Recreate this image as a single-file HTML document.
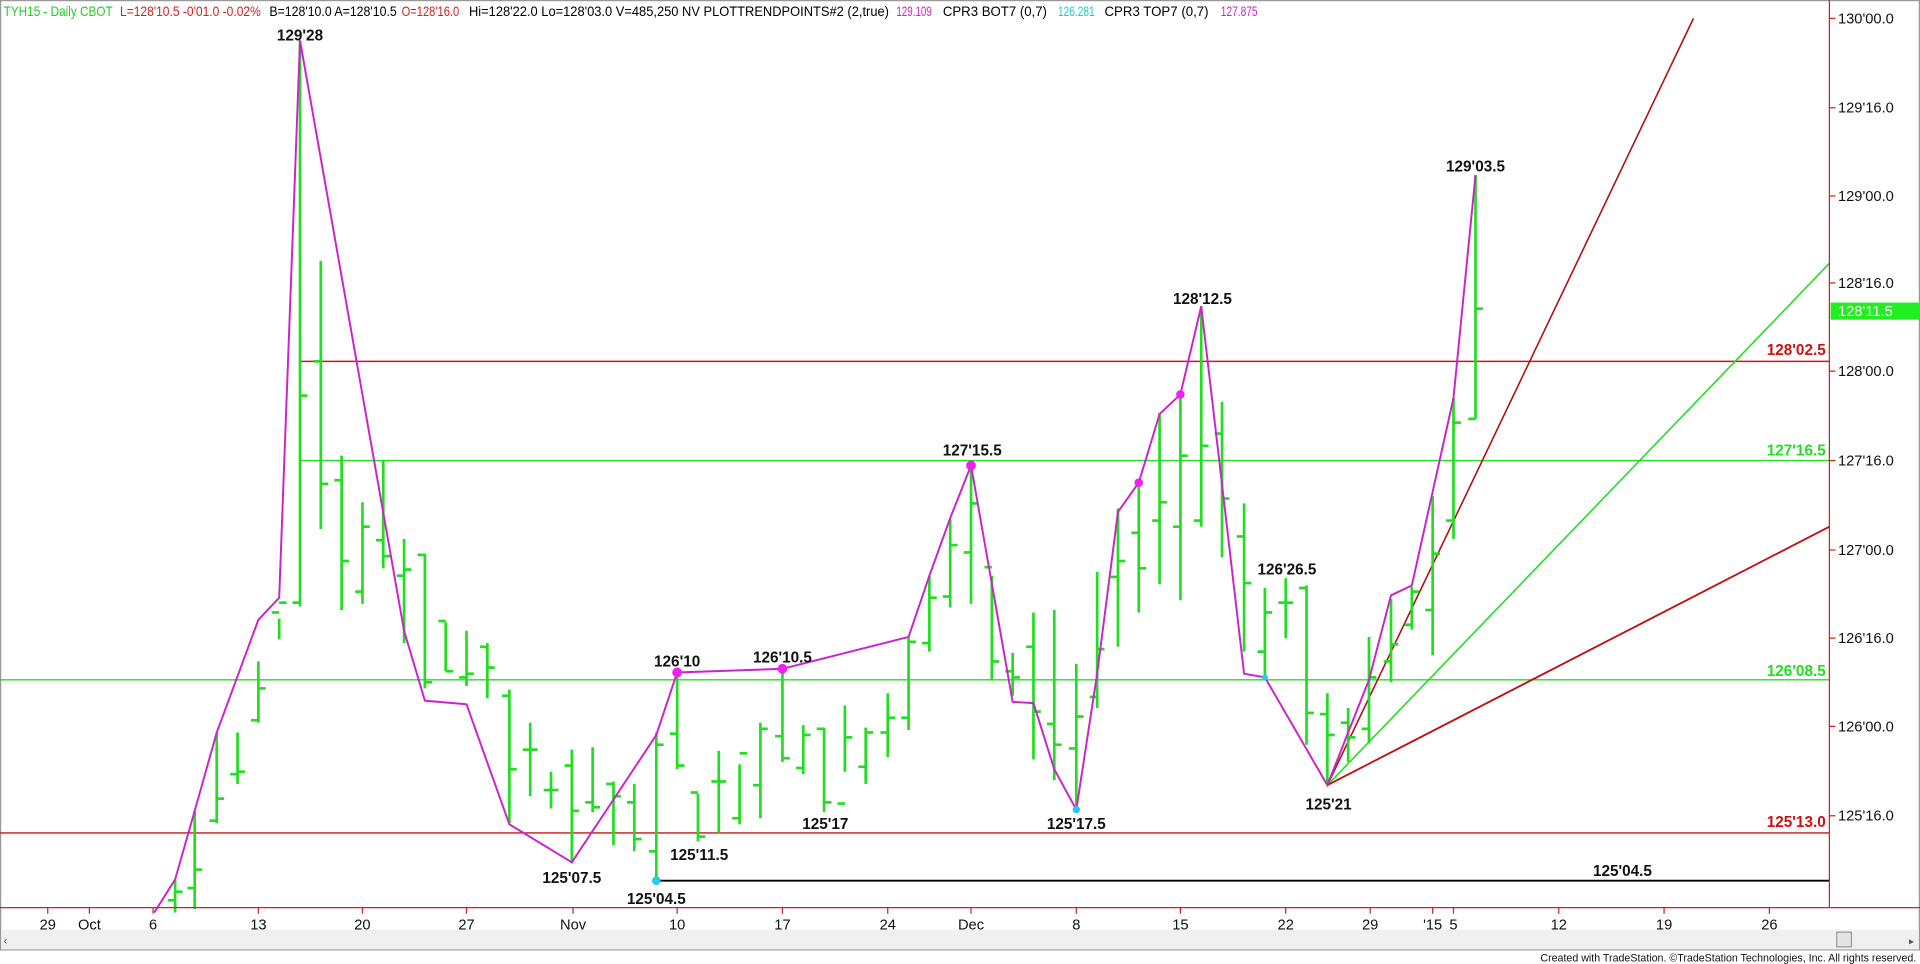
<!DOCTYPE html>
<html><head><meta charset="utf-8"><style>
html,body{margin:0;padding:0;background:#fff;overflow:hidden}
svg{display:block}
text{font-family:"Liberation Sans",Arial,sans-serif}
</style></head><body>
<svg width="1920" height="964" viewBox="0 0 1568 787" preserveAspectRatio="none">
<rect x="0" y="0" width="1568" height="787" fill="#fff"/>
<rect x="0.5" y="0.5" width="1567" height="775" fill="none" stroke="#999"/>
<!-- header -->
<g font-size="11.5" lengthAdjust="spacingAndGlyphs">
<text x="3" y="13" fill="#22cc22" textLength="89" lengthAdjust="spacingAndGlyphs">TYH15 - Daily  CBOT</text>
<text x="98" y="13" fill="#d02020" textLength="115" lengthAdjust="spacingAndGlyphs">L=128'10.5  -0'01.0  -0.02%</text>
<text x="220" y="13" fill="#000" textLength="104" lengthAdjust="spacingAndGlyphs">B=128'10.0  A=128'10.5</text>
<text x="328" y="13" fill="#d02020" textLength="47" lengthAdjust="spacingAndGlyphs">O=128'16.0</text>
<text x="383" y="13" fill="#000" textLength="343" lengthAdjust="spacingAndGlyphs">Hi=128'22.0  Lo=128'03.0  V=485,250  NV  PLOTTRENDPOINTS#2 (2,true)</text>
<text x="732" y="13" fill="#cc22cc" textLength="29" lengthAdjust="spacingAndGlyphs">129.109</text>
<text x="770" y="13" fill="#000" textLength="85" lengthAdjust="spacingAndGlyphs">CPR3 BOT7 (0,7)</text>
<text x="864" y="13" fill="#22cccc" textLength="30" lengthAdjust="spacingAndGlyphs">126.281</text>
<text x="902" y="13" fill="#000" textLength="85" lengthAdjust="spacingAndGlyphs">CPR3 TOP7 (0,7)</text>
<text x="997" y="13" fill="#cc22cc" textLength="30" lengthAdjust="spacingAndGlyphs">127.875</text>
</g>

<!-- horizontal levels -->
<line x1="245" y1="295" x2="1494" y2="295" stroke="#e01010" stroke-width="1.2"/>
<line x1="245" y1="376" x2="1494" y2="376" stroke="#22dd22" stroke-width="1.2"/>
<line x1="0" y1="555" x2="1494" y2="555" stroke="#22dd22" stroke-width="1.2"/>
<line x1="0" y1="680" x2="1494" y2="680" stroke="#cc1010" stroke-width="1.2"/>
<line x1="536" y1="719" x2="1494" y2="719" stroke="#000" stroke-width="1.5"/>
<!-- fan -->
<line x1="1084" y1="641" x2="1383" y2="15" stroke="#b01010" stroke-width="1.3"/>
<line x1="1084" y1="641" x2="1494" y2="215" stroke="#22dd22" stroke-width="1.3"/>
<line x1="1084" y1="641" x2="1494" y2="430" stroke="#c01010" stroke-width="1.5"/>

<!-- bars -->
<g id="bars" stroke="#22dd22" stroke-width="2.2" fill="none"></g>

<!-- trend line -->
<polyline fill="none" stroke="#cc22cc" stroke-width="1.6" points="126,745 143,718 159,662 177,598 211,506 228,488 245,33 330,515 347,572 381,575 416,673 467,704 536,600 553,549 639,546 742,520 759,470 776,423 793,380 827,573 844,574 861,628 879,661 896,550 913,418 930,394 947,338 964,322 981,250 1016,550 1033,553 1084,641 1118,555 1136,486 1153,478 1187,325 1205,143"/>
<g fill="#ee22ee"><circle cx="553" cy="549" r="4"/><circle cx="639" cy="546" r="4"/><circle cx="793" cy="380" r="4"/><circle cx="930" cy="394" r="3.5"/><circle cx="964" cy="322" r="3.5"/></g>
<g fill="#22ccee"><circle cx="536" cy="719" r="3.5"/><circle cx="879" cy="661" r="3"/><circle cx="1033" cy="553" r="2.5"/></g>

<!-- labels -->
<g font-size="12.5" font-weight="bold" fill="#111" text-anchor="middle">
<text x="245" y="33">129'28</text>
<text x="1205" y="140">129'03.5</text>
<text x="982" y="248">128'12.5</text>
<text x="794" y="372">127'15.5</text>
<text x="1051" y="469">126'26.5</text>
<text x="553" y="544">126'10</text>
<text x="639" y="541">126'10.5</text>
<text x="674" y="677">125'17</text>
<text x="571" y="702">125'11.5</text>
<text x="467" y="721">125'07.5</text>
<text x="536" y="738">125'04.5</text>
<text x="879" y="677">125'17.5</text>
<text x="1085" y="661">125'21</text>
<text x="1325" y="715">125'04.5</text>
</g>
<g font-size="12.5" font-weight="bold" text-anchor="end">
<text x="1491" y="290" fill="#d01010">128'02.5</text>
<text x="1491" y="372" fill="#22dd22">127'16.5</text>
<text x="1491" y="552" fill="#22dd22">126'08.5</text>
<text x="1491" y="675" fill="#d01010">125'13.0</text>
</g>

<!-- right axis -->
<line x1="1494" y1="0" x2="1494" y2="741" stroke="#d02020" stroke-width="1"/>
<g stroke="#d02020"><line x1="1494" y1="15" x2="1499" y2="15"/><line x1="1494" y1="88" x2="1499" y2="88"/><line x1="1494" y1="160" x2="1499" y2="160"/><line x1="1494" y1="231" x2="1499" y2="231"/><line x1="1494" y1="303" x2="1499" y2="303"/><line x1="1494" y1="376" x2="1499" y2="376"/><line x1="1494" y1="449" x2="1499" y2="449"/><line x1="1494" y1="521" x2="1499" y2="521"/><line x1="1494" y1="593" x2="1499" y2="593"/><line x1="1494" y1="666" x2="1499" y2="666"/></g>
<g font-size="12" fill="#111">
<text x="1501" y="19">130'00.0</text><text x="1501" y="92">129'16.0</text><text x="1501" y="164">129'00.0</text><text x="1501" y="235">128'16.0</text><text x="1501" y="307">128'00.0</text><text x="1501" y="380">127'16.0</text><text x="1501" y="453">127'00.0</text><text x="1501" y="525">126'16.0</text><text x="1501" y="597">126'00.0</text><text x="1501" y="670">125'16.0</text>
</g>
<rect x="1495" y="247" width="73" height="14" fill="#22ee22"/>
<text x="1501" y="258" font-size="12" fill="#fff">128'11.5</text>

<!-- bottom axis -->
<line x1="0" y1="741" x2="1568" y2="741" stroke="#d02020" stroke-width="1"/>
<g id="dticks" stroke="#d02020"></g>
<g font-size="12" fill="#111" text-anchor="middle" id="dlabels"></g>
<rect x="1" y="759" width="1566" height="16" fill="#f0f0f0"/>
<rect x="1500" y="761" width="12" height="12" fill="#e4e4e4" stroke="#999"/>
<text x="3" y="771" font-size="9" fill="#555">‹</text>
<text x="1559" y="771" font-size="8" fill="#555">▸</text>
<text x="1565" y="785" font-size="9" fill="#111" text-anchor="end" textLength="307" lengthAdjust="spacingAndGlyphs">Created with TradeStation. ©TradeStation Technologies, Inc. All rights reserved.</text>
</svg>
<script>
var bars=[
[143,718,745,735,728],[159,662,742,725,710],[177,598,672,670,652],[194,598,640,632,630],
[211,540,590,588,562],[228,505,522,500,492],[245,33,495,492,323],[262,213,432,295,395],
[279,372,498,392,458],[296,410,493,483,430],[313,376,464,441,454],[330,440,525,470,465],
[347,452,562,453,557],[364,508,548,507,548],[381,515,560,553,550],[398,525,570,528,545],
[416,563,672,568,628],[433,590,650,612,612],[450,630,660,645,645],[467,612,705,625,662],
[484,610,663,655,659],[501,638,690,640,650],[518,640,695,655,685],[536,598,720,695,608],
[553,548,628,599,625],[570,648,687,647,683],[587,613,680,638,638],[604,624,673,668,615],
[621,590,668,641,595],[639,546,622,601,619],[656,592,632,627,600],[673,594,663,595,655],
[690,576,630,656,602],[707,594,640,626,598],[725,566,618,598,586],[742,520,596,586,524],
[759,470,532,525,488],[776,424,496,487,445],[793,380,493,451,411],[810,470,555,463,540],
[827,533,568,548,553],[844,500,620,528,581],[861,498,637,591,608],[879,542,661,611,585],
[896,467,578,569,530],[913,415,528,471,458],[930,392,500,435,464],[947,337,477,425,410],
[964,322,490,430,372],[981,250,430,425,364],[998,328,455,354,407],[1016,411,532,438,476],
[1033,480,553,532,500],[1050,472,521,492,492],[1067,478,608,480,582],[1084,566,640,583,600],
[1101,578,622,590,602],[1118,520,607,595,553],[1136,489,557,540,526],[1153,479,514,510,483],
[1170,405,535,498,452],[1187,325,440,425,345],[1205,143,342,342,252]];
var g=document.getElementById('bars'),s='';
bars.forEach(function(b){s+='<line x1="'+b[0]+'" y1="'+b[1]+'" x2="'+b[0]+'" y2="'+b[2]+'"/>'+
'<line x1="'+(b[0]-6)+'" y1="'+b[3]+'" x2="'+b[0]+'" y2="'+b[3]+'"/>'+
'<line x1="'+b[0]+'" y1="'+b[4]+'" x2="'+(b[0]+6)+'" y2="'+b[4]+'"/>';});
g.innerHTML=s;
var d=[[39,'29'],[73,'Oct'],[125,'6'],[211,'13'],[296,'20'],[381,'27'],[468,'Nov'],[553,'10'],[639,'17'],[725,'24'],[793,'Dec'],[879,'8'],[964,'15'],[1050,'22'],[1119,'29'],[1170,"'15"],[1187,'5'],[1273,'12'],[1359,'19'],[1445,'26']];
var t='',l='';
d.forEach(function(a){t+='<line x1="'+a[0]+'" y1="741" x2="'+a[0]+'" y2="746"/>';l+='<text x="'+a[0]+'" y="759">'+a[1]+'</text>';});
document.getElementById('dticks').innerHTML=t;
document.getElementById('dlabels').innerHTML=l;
</script>
</body></html>
